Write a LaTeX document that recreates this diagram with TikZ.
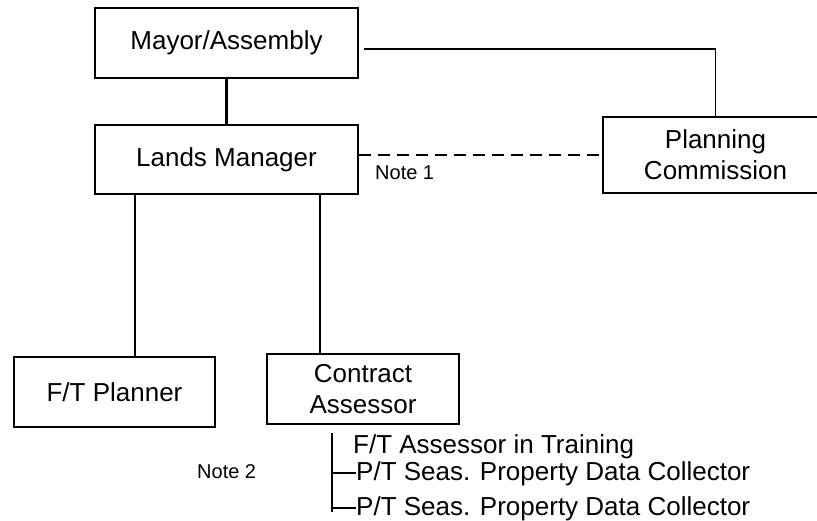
\documentclass[tikz,border=0pt]{standalone}
\usepackage{fontspec}
\setmainfont{Liberation Sans}
\usetikzlibrary{calc}
\begin{document}
\begin{tikzpicture}[x=1pt,y=-1pt,
  unit/.style={draw,line width=1.8pt,inner sep=0pt,align=center,
    font=\fontsize{26}{31}\selectfont},
  heavy/.style={line width=2.7pt},
  light/.style={line width=1.8pt},
  note/.style={inner sep=0pt,font=\fontsize{20}{24}\selectfont},
  staff/.style={inner sep=0pt,anchor=base west,font=\fontsize{26}{31}\selectfont}]
\useasboundingbox (0,0) rectangle (817,521);

% positions
\node[unit,minimum width=263pt,minimum height=70pt] (mayor) at (226.5,43) {Mayor/Assembly};
\node[unit,minimum width=263pt,minimum height=69pt] (lands) at (226.5,159.5) {Lands Manager};
\node[unit,minimum width=225pt,minimum height=76pt] (plan) at (715.5,155) {Planning\\Commission};
\node[unit,minimum width=201pt,minimum height=70pt] (planner) at (114.5,392) {F/T Planner};
\node[unit,minimum width=192pt,minimum height=70pt] (contract) at (363,389) {Contract\\Assessor};

\node[note,anchor=west] (n1) at (375,173) {Note 1};
\node[note,anchor=west] (n2) at (197,472) {Note 2};

% staff under the contract assessor
\node[staff] (s1) at (353,453) {F/T Assessor in Training};
\node[staff] (s2) at (356,480) {P/T Seas. Property Data Collector};
\node[staff] (s3) at (356,515) {P/T Seas. Property Data Collector};

% reporting lines
\draw[heavy] (mayor.south) -- (lands.north);
\draw[light] ([shift={(5pt,-6pt)}]mayor.east) -| (plan.north);
\coordinate (d1) at ([yshift=4.5pt]lands.east);
\draw[light,dash pattern=on 12pt off 7pt] (d1) -- (d1 -| plan.west);
\coordinate (a1) at ([xshift=-91.5pt]lands.south);
\draw[heavy] (a1) -- (a1 |- planner.north);
\coordinate (a2) at ([xshift=93.5pt]lands.south);
\draw[light] (a2) -- (a2 |- contract.north);

% bracket for the assessor's staff
\coordinate (b0) at (332,433);
\coordinate (b1) at (332,512);
\draw[light] (b0) -- (b1);
\draw[light] (b0 |- s2.west) -- (s2.west);
\draw[light] (b0 |- s3.west) -- (s3.west);
\end{tikzpicture}
\end{document}
